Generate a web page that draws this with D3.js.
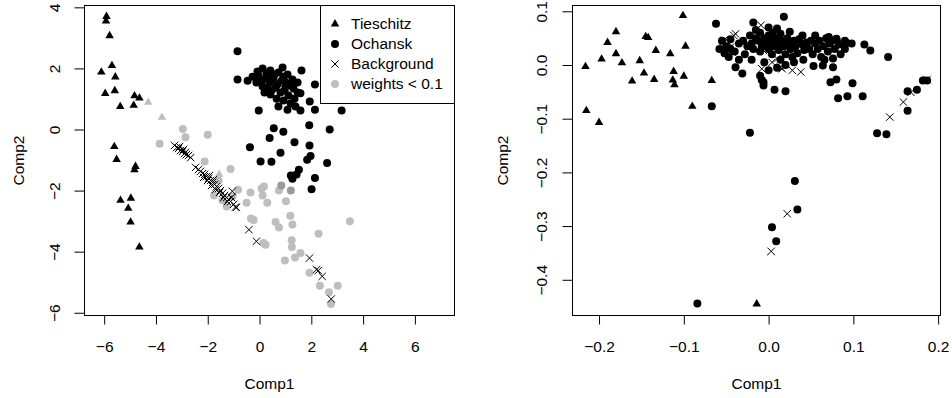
<!DOCTYPE html>
<html>
<head>
<meta charset="utf-8">
<script src="https://cdn.jsdelivr.net/npm/d3@7"></script>
<style>
  body { margin: 0; background: #fff; }
  svg text { font-family: "Liberation Sans", Arial, sans-serif; font-size: 15.5px; fill: #000; }
</style>
</head>
<body>
<svg id="chart" width="952" height="398"></svg>
<script>
// ---- left panel data (Comp1, Comp2) ----
const tieschitzA = [
  [-5.91, 3.70], [-5.93, 3.55], [-5.79, 3.07], [-5.70, 2.09], [-6.11, 1.88], [-5.57, 1.72],
  [-5.96, 1.18], [-5.59, 1.27], [-4.83, 1.10], [-4.64, 1.03], [-5.38, 0.75], [-4.86, 0.79],
  [-5.61, -0.56], [-5.52, -0.98], [-4.79, -1.21], [-4.83, -1.32], [-5.37, -2.32], [-4.97, -2.25],
  [-5.07, -2.58], [-4.98, -3.03], [-4.64, -3.85]
]
const ochanskA = [
  [-0.85, 2.56], [-0.85, 1.64], [1.62, 1.93], [2.14, 1.47], [1.58, 1.19], [1.94, 0.92],
  [2.14, 0.65], [3.17, 0.62], [-0.03, 0.62], [0.55, 0.04], [0.92, -0.07], [1.92, 0.14],
  [2.71, 0.00], [0.39, -0.28], [1.35, -0.42], [1.93, -0.52], [-0.37, -0.58], [0.81, -0.76],
  [1.97, -0.87], [1.84, -0.99], [0.04, -1.05], [0.46, -1.06], [2.61, -1.10], [1.52, -1.32],
  [1.21, -1.51], [1.43, -1.47], [1.27, -1.61], [2.14, -1.59], [2.01, -1.96],
  // dense group
  [-0.46, 1.60], [-0.27, 1.73], [-0.08, 1.90], [0.12, 2.00], [0.27, 1.83], [0.42, 1.93],
  [0.58, 1.80], [0.73, 1.87], [0.93, 1.73], [1.08, 1.80], [1.27, 1.64], [-0.12, 1.54],
  [0.08, 1.60], [0.23, 1.67], [0.39, 1.54], [0.54, 1.64], [0.69, 1.47], [0.85, 1.60],
  [1.00, 1.41], [0.12, 1.41], [0.31, 1.34], [0.46, 1.28], [0.62, 1.37], [0.81, 1.21],
  [0.97, 1.28], [1.12, 1.11], [1.31, 1.34], [1.47, 1.21], [0.93, 0.95], [1.20, 0.85],
  [1.39, 0.75], [0.73, 0.75], [1.08, 0.65], [1.58, 0.62], [1.35, 1.01], [0.42, 1.15],
  [0.66, 1.01], [0.19, 1.21], [-0.04, 1.77], [0.35, 1.73], [1.00, 1.54], [1.20, 1.44],
  [0.89, 2.03], [1.47, 1.54]
]
const backgroundA = [
  [-3.28, -0.52], [-3.20, -0.59], [-3.13, -0.62], [-3.05, -0.69], [-2.97, -0.72], [-2.90, -0.79],
  [-2.82, -0.82], [-2.74, -0.85], [-2.66, -0.92], [-3.09, -0.56], [-2.93, -0.65], [-2.86, -0.75],
  [-2.47, -1.24], [-2.36, -1.31], [-2.28, -1.37], [-2.20, -1.44], [-2.12, -1.47], [-2.05, -1.54],
  [-1.97, -1.60], [-1.89, -1.67], [-1.81, -1.73], [-1.74, -1.80], [-1.66, -1.87], [-1.58, -1.93],
  [-1.51, -2.00], [-1.43, -2.09], [-1.35, -2.16], [-1.27, -2.23], [-1.20, -2.29], [-1.12, -2.36],
  [-1.00, -2.45], [-0.89, -2.55], [-2.16, -1.57], [-2.01, -1.67], [-1.85, -1.83], [-1.70, -1.96],
  [-1.54, -2.06], [-1.39, -2.23], [-1.24, -2.36], [-1.08, -2.23], [-1.93, -1.51], [-1.78, -1.64],
  [-1.05, -2.02], [-0.93, -2.54], [-0.41, -3.28], [-0.12, -3.66], [1.93, -4.21], [2.20, -4.59],
  [2.27, -4.62], [2.42, -4.81], [2.77, -5.55]
]
// weights < 0.1
const lowWeightA = [
  [-2.96, 0.02], [-2.86, -0.25], [-3.86, -0.47], [-2.00, -0.17], [-2.12, -1.05], [-1.12, -1.29],
  [-0.83, -1.97], [-1.76, -2.16], [-0.35, -2.06], [-0.50, -2.40], [0.08, -1.93], [0.17, -1.87],
  [0.12, -2.16], [0.30, -2.40], [1.02, -2.35], [0.75, -2.00], [-0.33, -2.91], [-0.23, -2.96],
  [1.19, -2.82], [1.27, -3.11], [0.62, -3.03], [0.75, -3.21], [3.49, -3.00], [2.28, -3.41],
  [1.24, -3.63], [1.25, -3.85], [0.15, -3.72], [0.23, -3.77], [1.58, -4.04], [1.37, -4.19],
  [0.98, -4.29], [1.93, -4.69], [2.33, -5.12], [3.02, -5.12], [2.68, -5.33], [2.76, -5.71],
  [-1.43, -2.32], [-1.27, -2.52], [-1.04, -2.19], [-1.58, -1.67]
]
const lowWeightTriA = [[-4.30, 0.89], [-3.77, 0.40], [-1.56, -1.47]]
const midWeightA = [[0.84, -1.83], [1.21, -2.00]]

// ---- right panel data ----
const tieschitzB = [
  [-0.101, 0.092], [-0.180, 0.062], [-0.190, 0.042], [-0.145, 0.053], [-0.142, 0.051], [-0.133, 0.027],
  [-0.098, 0.035], [-0.116, 0.021], [-0.180, 0.021], [-0.197, 0.011], [-0.152, 0.008], [-0.173, 0.004],
  [-0.216, -0.003], [-0.147, -0.015], [-0.112, -0.012], [-0.161, -0.030], [-0.135, -0.027], [-0.113, -0.028],
  [-0.100, -0.021], [-0.111, -0.037], [-0.067, -0.029], [-0.090, -0.077], [-0.215, -0.085], [-0.200, -0.107],
  [-0.014, -0.445]
]
const ochanskB = [
  [-0.062, 0.077], [-0.067, -0.077], [0.018, 0.090], [-0.018, 0.079], [-0.022, -0.126], [0.031, -0.216],
  [0.128, -0.127], [0.139, -0.129], [0.141, 0.015], [0.113, 0.038], [0.120, 0.027], [0.164, -0.049],
  [0.175, -0.046], [0.164, -0.085], [0.182, -0.029], [0.187, -0.029], [0.082, -0.062], [0.093, -0.058],
  [0.111, -0.058], [0.099, -0.034], [0.073, -0.032], [0.080, -0.027], [0.007, -0.046], [0.020, -0.049],
  [-0.031, -0.016], [-0.039, -0.004], [-0.006, -0.032], [-0.006, -0.038], [0.041, 0.010], [0.053, -0.002],
  [0.064, -0.001], [0.076, -0.004], [0.092, 0.041], [0.080, 0.049], [0.071, 0.052], [0.034, -0.269],
  [0.004, -0.302], [0.009, -0.328], [-0.084, -0.444],
  // dense group
  [-0.045, 0.030], [-0.040, 0.025], [-0.035, 0.040], [-0.030, 0.045], [-0.028, 0.020], [-0.025, 0.035],
  [-0.022, 0.055], [-0.020, 0.040], [-0.018, 0.030], [-0.015, 0.050], [-0.012, 0.045], [-0.010, 0.060],
  [-0.010, 0.025], [-0.008, 0.035], [-0.005, 0.050], [-0.003, 0.040], [0.000, 0.055], [0.000, 0.030],
  [0.002, 0.045], [0.004, 0.020], [0.005, 0.060], [0.006, 0.035], [0.008, 0.050], [0.010, 0.040],
  [0.012, 0.028], [0.014, 0.058], [0.015, 0.045], [0.018, 0.035], [0.020, 0.020], [0.022, 0.050],
  [0.024, 0.040], [0.026, 0.030], [0.028, 0.015], [0.030, 0.045], [0.032, 0.035], [0.034, 0.022],
  [0.036, 0.048], [0.040, 0.038], [0.042, 0.028], [0.045, 0.042], [0.048, 0.030], [0.050, 0.045],
  [0.052, 0.020], [0.055, 0.040], [0.058, 0.030], [0.060, 0.045], [0.062, 0.015], [0.065, 0.035],
  [0.068, 0.050], [0.070, 0.025], [0.072, 0.040], [0.075, 0.045], [0.078, 0.030], [0.080, 0.048],
  [0.083, 0.038], [0.085, 0.020], [0.088, 0.040], [0.090, 0.030], [0.066, 0.010], [0.076, 0.012],
  [-0.035, 0.010], [-0.020, 0.010], [-0.005, 0.005], [0.010, -0.005], [0.020, 0.000], [0.000, -0.010],
  [-0.010, -0.020], [-0.008, -0.028], [0.014, 0.010], [0.030, 0.005], [-0.050, 0.035], [-0.055, 0.045],
  [-0.045, 0.048], [0.000, 0.070], [0.010, 0.068], [-0.015, 0.065], [0.025, 0.062], [0.040, 0.055],
  [0.055, 0.055], [0.090, 0.045], [0.098, 0.040], [-0.058, 0.030], [-0.052, 0.022], [-0.047, 0.015]
]
const backgroundB = [
  [-0.053, 0.046], [-0.047, 0.042], [-0.041, 0.055], [-0.051, 0.024], [-0.043, 0.024], [-0.039, 0.058],
  [-0.045, 0.033], [-0.054, 0.033], [-0.009, 0.074], [-0.006, 0.027], [-0.008, -0.007], [0.004, 0.005],
  [0.014, -0.004], [0.016, -0.007], [0.028, -0.010], [0.038, -0.013], [0.010, 0.012], [-0.002, 0.033],
  [0.143, -0.097], [0.159, -0.069], [0.168, -0.051], [0.187, -0.027], [0.022, -0.277], [0.003, -0.347]
]

const xTicksA = [-6, -4, -2, 0, 2, 4, 6]
const yTicksA = [-6, -4, -2, 0, 2, 4]
const xTicksB = [-0.2, -0.1, 0, 0.1, 0.2]
const yTicksB = [-0.4, -0.3, -0.2, -0.1, 0, 0.1]
const legendLabels = ['Tieschitz', 'Ochansk', 'Background', 'weights < 0.1']

const GREY = '#bebebe'
const svg = d3.select('#chart')

// R style symbols
const triPath = 'M0,-4.9L4.25,2.45L-4.25,2.45Z'
const crossPath = 'M-3.7,-3.7L3.7,3.7M-3.7,3.7L3.7,-3.7'

function minus (s) { return s.replace('-', '\u2212') }

function addMarks (g, data, shape, color, x, y) {
  const sel = g.append('g').selectAll('path').data(data)
  if (shape === 'circle') {
    g.append('g').selectAll('circle').data(data).join('circle')
      .attr('cx', d => x(d[0])).attr('cy', d => y(d[1])).attr('r', 4).attr('fill', color)
  } else if (shape === 'triangle') {
    sel.join('path').attr('d', triPath).attr('fill', color)
      .attr('transform', d => 'translate(' + x(d[0]) + ',' + y(d[1]) + ')')
  } else {
    sel.join('path').attr('d', crossPath).attr('fill', 'none').attr('stroke', color).attr('stroke-width', 1)
      .attr('transform', d => 'translate(' + x(d[0]) + ',' + y(d[1]) + ')')
  }
}

// draw one panel
function drawPanel (p) {
  const x = d3.scaleLinear().domain(p.xDomain).range([p.left, p.right])
  const y = d3.scaleLinear().domain(p.yDomain).range([p.bottom, p.top])
  const g = svg.append('g')

  p.layers.forEach(function (l) { addMarks(g, l.data, l.shape, l.color, x, y) })

  // x axis
  const ax = g.append('g').attr('transform', 'translate(0,' + p.bottom + ')')
    .call(d3.axisBottom(x).tickValues(p.xTicks).tickSize(9).tickSizeOuter(0).tickFormat(p.fmt))
  ax.select('.domain').remove()
  ax.selectAll('text').attr('y', 31).attr('dy', '0.35em').style('font-size', null).style('font-family', null)
  ax.attr('font-size', null).attr('font-family', null)
  ax.selectAll('line').attr('stroke', '#000')

  // y axis
  const ay = g.append('g').attr('transform', 'translate(' + p.left + ',0)')
    .call(d3.axisLeft(y).tickValues(p.yTicks).tickSize(10).tickSizeOuter(0).tickFormat(p.fmt))
  ay.select('.domain').remove()
  ay.attr('font-size', null).attr('font-family', null)
  ay.selectAll('line').attr('stroke', '#000')
  ay.selectAll('text').attr('x', 0).attr('y', 0).attr('dy', '0.35em')
    .attr('text-anchor', 'middle')
    .attr('transform', 'translate(' + p.yLabelOff + ',0) rotate(-90)')

  // box
  g.append('rect')
    .attr('x', p.left).attr('y', p.top)
    .attr('width', p.right - p.left).attr('height', p.bottom - p.top)
    .attr('fill', 'none').attr('stroke', '#000').attr('stroke-width', 1)

  // titles
  g.append('text').attr('x', (p.left + p.right) / 2).attr('y', 384).attr('dy', '0.35em')
    .attr('text-anchor', 'middle').text('Comp1')
  g.append('text').attr('transform', 'translate(' + p.titleX + ',' + (p.top + p.bottom) / 2 + ') rotate(-90)')
    .attr('dy', '0.35em').attr('text-anchor', 'middle').text('Comp2')

  return { x: x, y: y, g: g }
}

const fmtA = d => minus(d3.format('d')(d))
const fmtB = d => minus(d3.format('.1f')(d))

const left = drawPanel({
  left: 84.5, right: 454.5, top: 5.5, bottom: 315.5,
  xDomain: [-6.76, 7.53], yDomain: [-6.09, 4.06],
  xTicks: xTicksA, yTicks: yTicksA, fmt: fmtA, yLabelOff: -30, titleX: 19,
  layers: [
    { data: lowWeightA, shape: 'circle', color: GREY },
    { data: lowWeightTriA, shape: 'triangle', color: GREY },
    { data: midWeightA, shape: 'circle', color: '#9a9a9a' },
    { data: ochanskA, shape: 'circle', color: '#000' },
    { data: tieschitzA, shape: 'triangle', color: '#000' },
    { data: backgroundA, shape: 'cross', color: '#000' }
  ]
})

drawPanel({
  left: 572.5, right: 940.5, top: 5.5, bottom: 315.5,
  xDomain: [-0.2313, 0.2028], yDomain: [-0.4665, 0.1108],
  xTicks: xTicksB, yTicks: yTicksB, fmt: fmtB, yLabelOff: -31, titleX: 503,
  layers: [
    { data: ochanskB, shape: 'circle', color: '#000' },
    { data: tieschitzB, shape: 'triangle', color: '#000' },
    { data: backgroundB, shape: 'cross', color: '#000' }
  ]
})

// legend in left panel
const legendShapes = ['triangle', 'circle', 'cross', 'circle']
const legendColors = ['#000', '#000', '#000', GREY]
const lg = left.g.append('g')
lg.append('rect').attr('x', 320.5).attr('y', 5.5).attr('width', 134).attr('height', 98)
  .attr('fill', '#fff').attr('stroke', '#000')
const items = lg.selectAll('g.item').data(legendLabels).join('g')
  .attr('class', 'item')
  .attr('transform', (d, i) => 'translate(335,' + (24 + i * 20) + ')')
items.each(function (d, i) {
  const it = d3.select(this)
  if (legendShapes[i] === 'circle') {
    it.append('circle').attr('r', 4).attr('fill', legendColors[i])
  } else if (legendShapes[i] === 'triangle') {
    it.append('path').attr('d', triPath).attr('fill', legendColors[i])
  } else {
    it.append('path').attr('d', crossPath).attr('stroke', legendColors[i]).attr('fill', 'none')
  }
})
items.append('text').attr('x', 16).attr('dy', '0.35em').text(d => d)
</script>
</body>
</html>
